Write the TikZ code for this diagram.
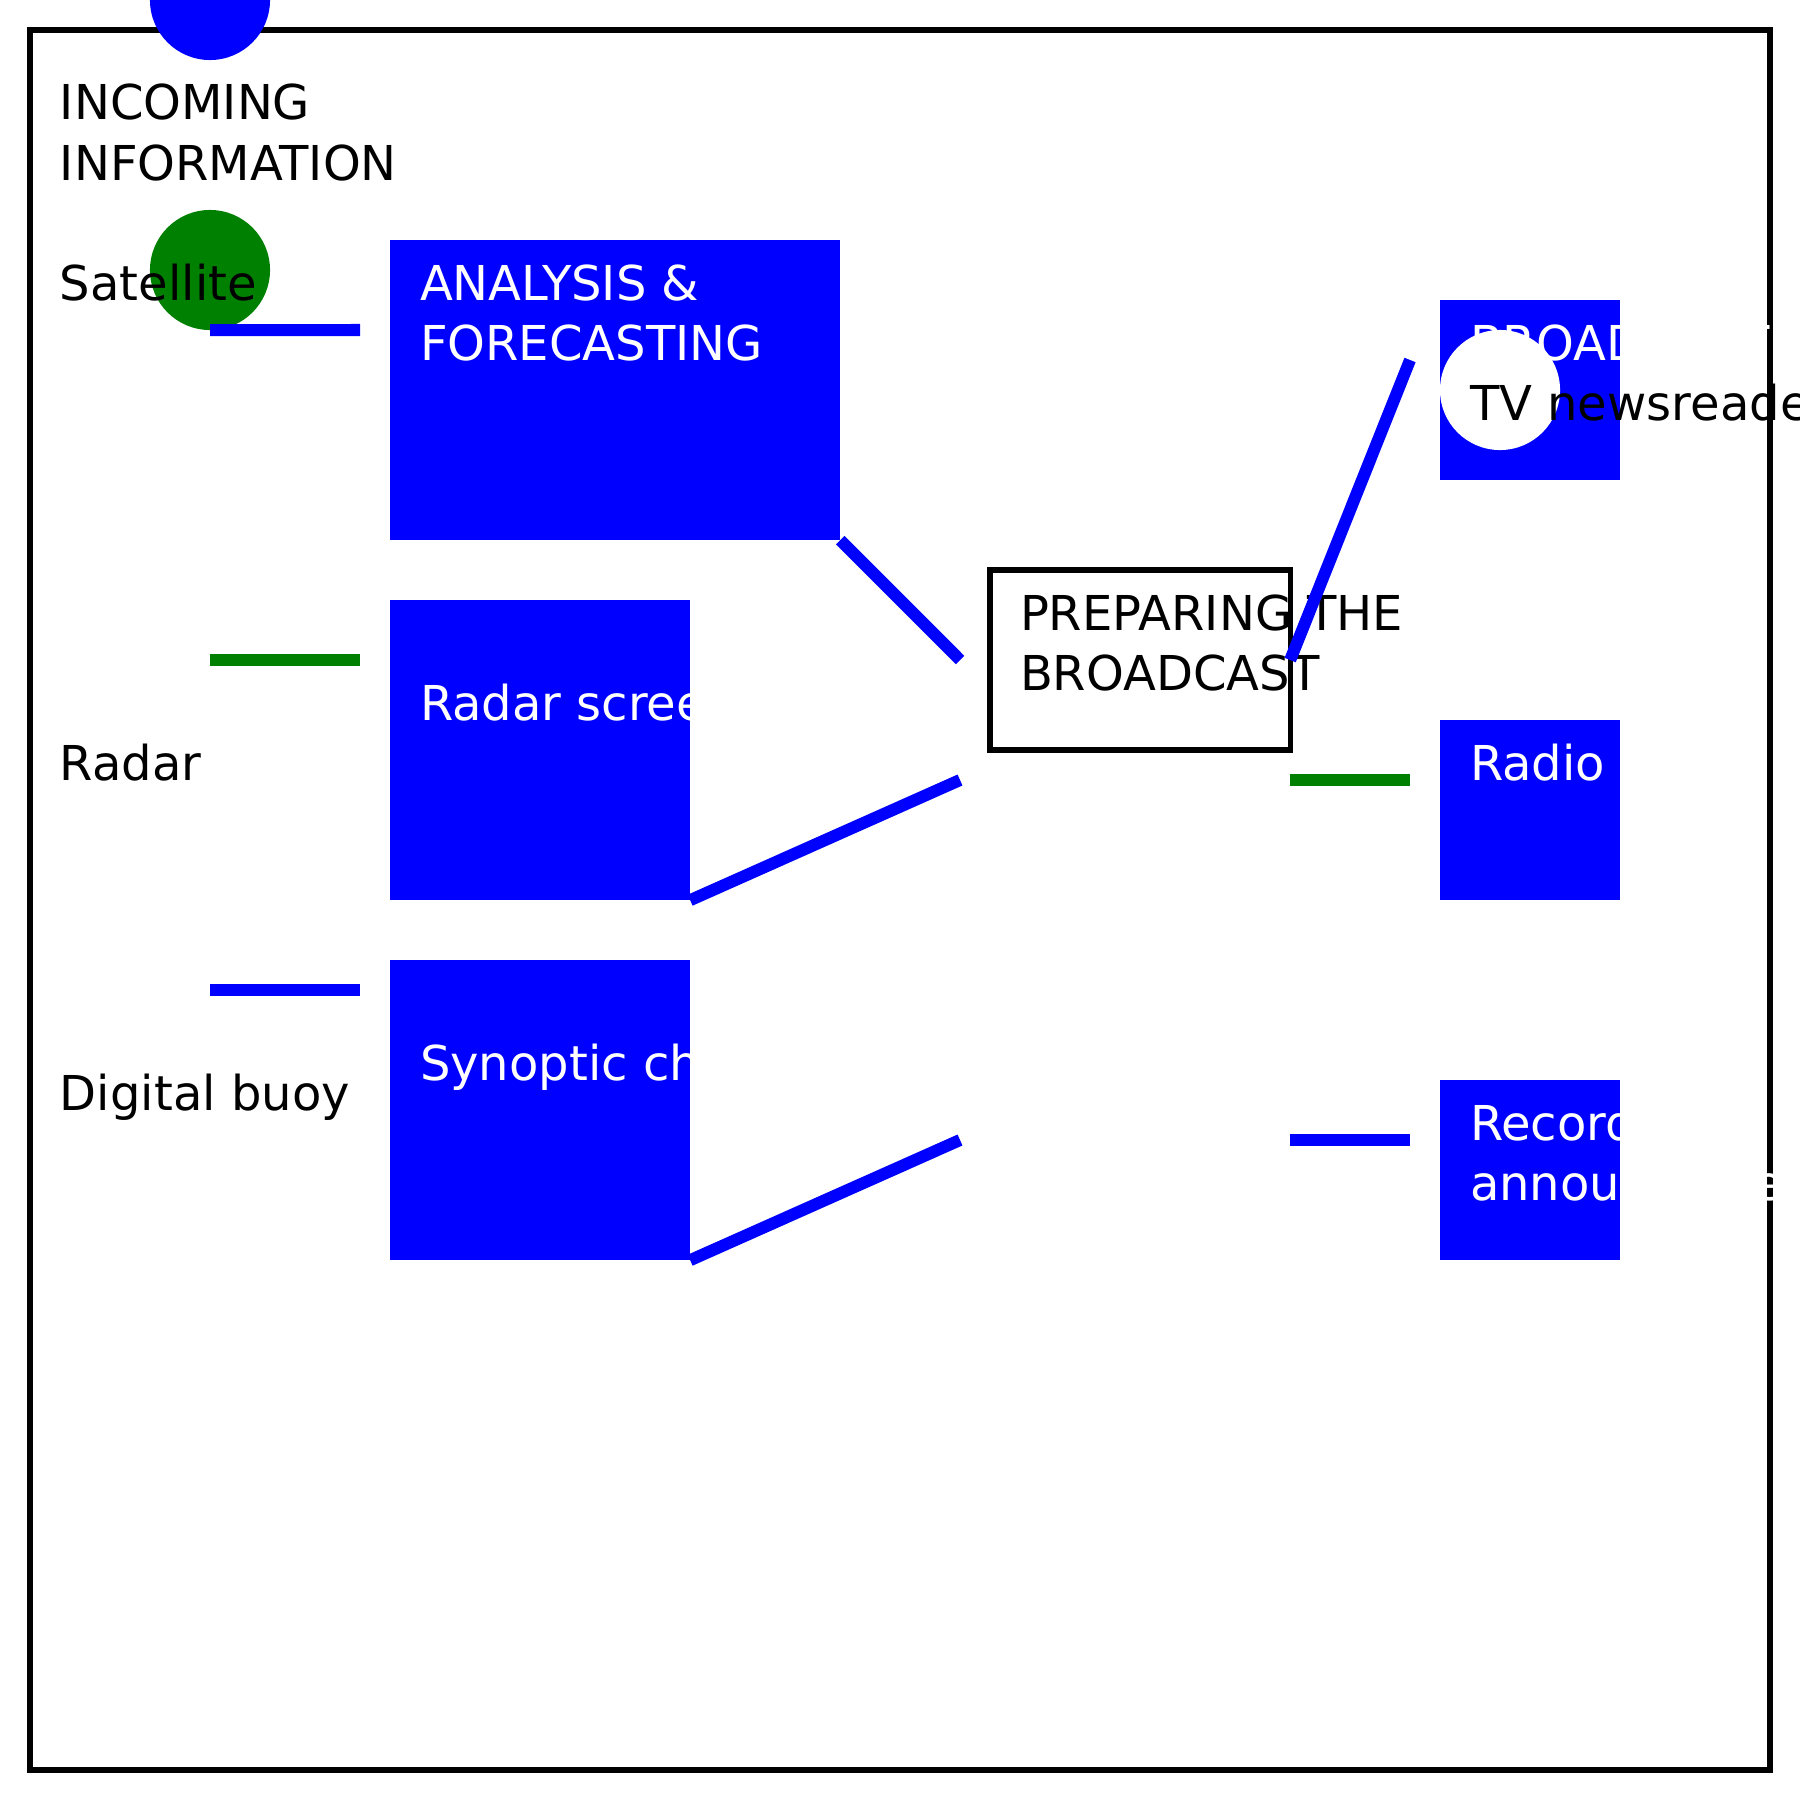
\documentclass[tikz,border=0pt]{standalone}
\usepackage{fontspec}
\setmainfont{DejaVu Sans}
\definecolor{pureblue}{HTML}{0000FF}
\definecolor{puregreen}{HTML}{008000}
\begin{document}
\begin{tikzpicture}[x=0.01cm,y=-0.01cm,
  lbl/.style={anchor=base west, inner sep=0, outer sep=0, font=\fontsize{13.66}{16.4}\selectfont},
  wlbl/.style={lbl, text=white},
  bluebox/.style={fill=pureblue, draw=none, inner sep=0, outer sep=0, anchor=north west, minimum width=#1},
  outbox/.style={draw=black, line width=0.053cm, fill=none, inner sep=0, outer sep=0, anchor=north west, minimum width=3cm, minimum height=1.8cm},
  conn/.style={line width=0.12cm},
  dot/.style={circle, inner sep=0, outer sep=0, minimum size=1.2cm, draw=none}]
\useasboundingbox (0,0) rectangle (1800,1800);
\clip (0,0) rectangle (1800,1800);
\fill[white] (0,0) rectangle (1800,1800);
\draw[line width=0.053cm] (30,30) rectangle (1770,1770);

% left column
\node[dot, fill=pureblue] (topdot) at (210,0) {};
\node[lbl] (inc1) at (60,120) {INCOMING};
\node[lbl] (inc2) at (60,180) {INFORMATION};
\node[dot, fill=puregreen] (satdot) at (210,270) {};
\node[lbl] (sat) at (60,300) {Satellite};
\node[lbl] (radar) at (60,780) {Radar};
\node[lbl] (buoy) at (60,1110) {Digital buoy};

% middle boxes
\node[bluebox=4.5cm, minimum height=3cm] (ana) at (390,240) {};
\node[wlbl] (ana1) at (420,300) {ANALYSIS \&};
\node[wlbl] (ana2) at (420,360) {FORECASTING};
\node[bluebox=3cm, minimum height=3cm] (rad) at (390,600) {};
\node[wlbl] (radt) at (420,720) {Radar screen};
\node[bluebox=3cm, minimum height=3cm] (syn) at (390,960) {};
\node[wlbl] (synt) at (420,1080) {Synoptic chart};

% preparing
\node[outbox] (prep) at (990,570) {};
\node[lbl] (prep1) at (1020,630) {PREPARING THE};
\node[lbl] (prep2) at (1020,690) {BROADCAST};

% right boxes
\node[bluebox=1.8cm, minimum height=1.8cm] (bc) at (1440,300) {};
\node[wlbl] (bct) at (1470,360) {BROADCAST};
\node[dot, fill=white] (tvdot) at (1500,390) {};
\node[lbl] (tvt) at (1470,420) {TV newsreader};
\node[bluebox=1.8cm, minimum height=1.8cm] (radio) at (1440,720) {};
\node[wlbl] (radiot) at (1470,780) {Radio};
\node[bluebox=1.8cm, minimum height=1.8cm] (rec) at (1440,1080) {};
\node[wlbl] (rec1) at (1470,1140) {Recorded};
\node[wlbl] (rec2) at (1470,1200) {announcement};

% connector end points
\coordinate (s1) at (360,330);
\coordinate (g0) at (210,660);
\coordinate (g1) at (360,660);
\coordinate (b0) at (210,990);
\coordinate (b1) at (360,990);
\coordinate (m1) at (960,660);
\coordinate (m2) at (960,780);
\coordinate (m3) at (960,1140);
\coordinate (p2) at (1290,780);
\coordinate (p3) at (1290,1140);
\coordinate (r1) at (1410,360);
\coordinate (r2) at (1410,780);
\coordinate (r3) at (1410,1140);

% connectors
\draw[conn, pureblue] (satdot.south) -- (s1);
\draw[conn, puregreen] (g0) -- (g1);
\draw[conn, pureblue] (b0) -- (b1);
\draw[conn, pureblue] (ana.south east) -- (m1);
\draw[conn, pureblue] (rad.south east) -- (m2);
\draw[conn, pureblue] (syn.south east) -- (m3);
\draw[conn, pureblue] (prep.east) -- (r1);
\draw[conn, puregreen] (p2) -- (r2);
\draw[conn, pureblue] (p3) -- (r3);
\end{tikzpicture}
\end{document}
